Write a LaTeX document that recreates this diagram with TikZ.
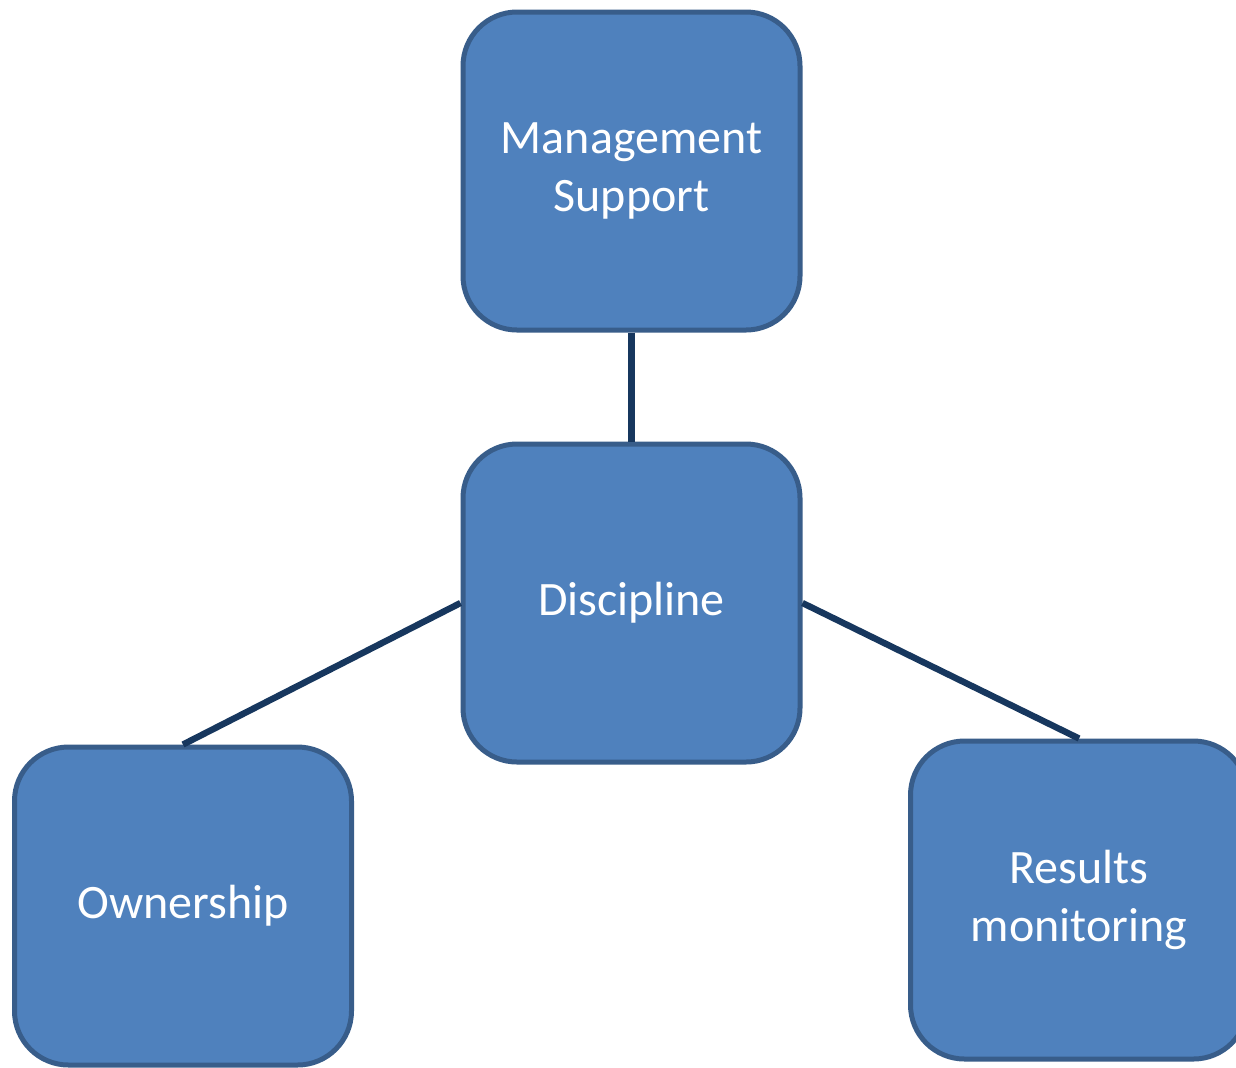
\documentclass[tikz,border=0pt]{standalone}
\usepackage{fontspec}
\setmainfont{Carlito}
\usepackage{tikz}
\usetikzlibrary{positioning}

\definecolor{boxfill}{HTML}{4F81BD}
\definecolor{boxline}{HTML}{385D8A}
\definecolor{linkline}{HTML}{17375E}

\begin{document}
\begin{tikzpicture}[
          x=0.5pt, y=-0.5pt,
          blk/.style={rectangle, rounded corners=27pt, draw=boxline, fill=boxfill,
            line width=2.5pt, minimum width=168.5pt, minimum height=159pt,
            text=white, align=center,
            font=\fontsize{24}{29}\selectfont},
          link/.style={draw=linkline, line width=3.2pt}
        ]
        \fill[white] (0,0) rectangle (1236,1067);
        \useasboundingbox (0,0) rectangle (1236,1067);
        \node[blk] (disc) at (631.5,603) {Discipline};
        \node[blk] (mgmt) [above=54.5pt of disc] {Management\\Support};
        \node[blk] (own) at (183,906) {Ownership};
        \node[blk] (res) at (1079,900) {Results\\monitoring};
        \draw[link] (mgmt) -- (disc);
        \draw[link] (disc.west) -- (own.north);
        \draw[link] (disc.east) -- (res.north);
      \end{tikzpicture}
\end{document}
